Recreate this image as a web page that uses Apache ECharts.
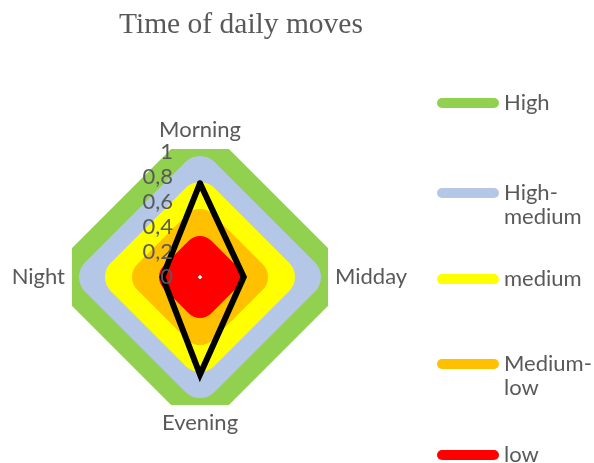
<!DOCTYPE html>
<html>
<head>
<meta charset="utf-8">
<script src="https://cdn.jsdelivr.net/npm/echarts@6/dist/echarts.min.js"></script>
<style>
  html, body { margin: 0; padding: 0; background: #fff; }
  #main { width: 594px; height: 463px; }
</style>
</head>
<body>
<div id="main"></div>
<script>
// axes in the order they appear going round the chart
var categories = ['Morning', 'Midday', 'Evening', 'Night'];
var tickLabels = ['0', '0,2', '0,4', '0,6', '0,8', '1'];

// reference bands (same value on every axis)
var bandNames = ['High', 'High-medium', 'medium', 'Medium-low', 'low'];
var bandValues = [1, 0.8, 0.6, 0.4, 0.2];
var bandColors = ['#92D050', '#B4C7E7', '#FFFF00', '#FFC000', '#FF0000'];
var bandWidths = [45, 42, 40, 36, 32];

// the black diamond
var movesValues = [0.75, 0.35, 0.78, 0.3];

var legendLabels = {
  'High': 'High',
  'High-medium': ' \nHigh-\nmedium',
  'medium': 'medium',
  'Medium-low': ' \nMedium-\nlow',
  'low': 'low'
};
var legendTops = [91, 157, 267, 328, 443];

var textGray = '#595959';
var font = 'Lato';

// echarts puts the indicators counter-clockwise, so reorder: top, left, bottom, right
var order = [0, 3, 2, 1];
function reorder(arr) {
  return order.map(function (i) { return arr[i]; });
}

var myChart = echarts.init(document.getElementById('main'));

var indicators = reorder(categories).map(function (c, i) {
  var ind = { name: c, min: 0, max: 1 };
  if (i === 0) {
    ind.axisLabel = {
      show: true,
      color: textGray,
      fontFamily: font,
      fontSize: 22,
      margin: 27,
      formatter: function (v) {
        return tickLabels[Math.round(v * 5)];
      }
    };
  }
  return ind;
});

var series = [];
bandNames.forEach(function (n, i) {
  var v = bandValues[i];
  series.push({
    type: 'radar',
    name: n,
    z: 2,
    symbol: 'none',
    silent: true,
    lineStyle: { color: bandColors[i], width: bandWidths[i], join: 'round', cap: 'round', opacity: 1 },
    areaStyle: { color: bandColors[i], opacity: 1 },
    itemStyle: { color: bandColors[i] },
    data: [{ value: reorder([v, v, v, v]), name: n }]
  });
});
series.push({
  type: 'radar',
  name: 'moves',
  z: 3,
  symbol: 'none',
  silent: true,
  lineStyle: { color: '#000', width: 6, join: 'miter', cap: 'round' },
  data: [{ value: reorder(movesValues), name: 'moves' }]
});
series.push({
  type: 'radar',
  name: 'centre',
  z: 4,
  symbol: 'circle',
  symbolSize: 3,
  silent: true,
  itemStyle: { color: '#fff' },
  lineStyle: { width: 0 },
  data: [{ value: [0, 0, 0, 0], name: 'centre' }]
});

var stadium = 'path://M5,0 L57,0 A5,5 0 0 1 57,10 L5,10 A5,5 0 0 1 5,0 Z';
var legends = bandNames.map(function (n, i) {
  return {
    data: [{ name: n, icon: stadium }],
    orient: 'vertical',
    left: 437,
    top: legendTops[i],
    padding: 0,
    itemWidth: 62,
    itemHeight: 10,
    itemGap: 3,
    selectedMode: false,
    formatter: function (name) { return legendLabels[name]; },
    textStyle: { color: textGray, fontFamily: font, fontSize: 22, lineHeight: 24 }
  };
});

// Excel clips the plot to a square, so paint out what falls outside it
var cx = 200, cy = 277, half = 128;
function maskRect(x, y, w, h) {
  return { type: 'rect', z: 5, silent: true, shape: { x: x, y: y, width: w, height: h }, style: { fill: '#fff' } };
}

var option = {
  backgroundColor: '#fff',
  animation: false,
  title: {
    text: 'Time of daily moves',
    left: 114,
    top: 5,
    textStyle: { color: textGray, fontFamily: 'Liberation Serif', fontSize: 29.5, fontWeight: 'normal' }
  },
  legend: legends,
  radar: {
    z: 10,
    center: [cx, cy],
    radius: 125,
    shape: 'polygon',
    splitNumber: 5,
    indicator: indicators,
    nameGap: 10,
    axisName: { color: textGray, fontFamily: font, fontSize: 22 },
    axisLine: { show: false },
    axisTick: { show: false },
    splitLine: { show: false },
    splitArea: { show: false },
    axisLabel: { show: false }
  },
  graphic: [
    maskRect(0, 60, 430, cy - half - 60),
    maskRect(0, cy + half, 430, 463 - cy - half),
    maskRect(0, cy - half, cx - half, 2 * half),
    maskRect(cx + half, cy - half, 430 - cx - half, 2 * half)
  ],
  series: series
};

myChart.setOption(option);
</script>
</body>
</html>
